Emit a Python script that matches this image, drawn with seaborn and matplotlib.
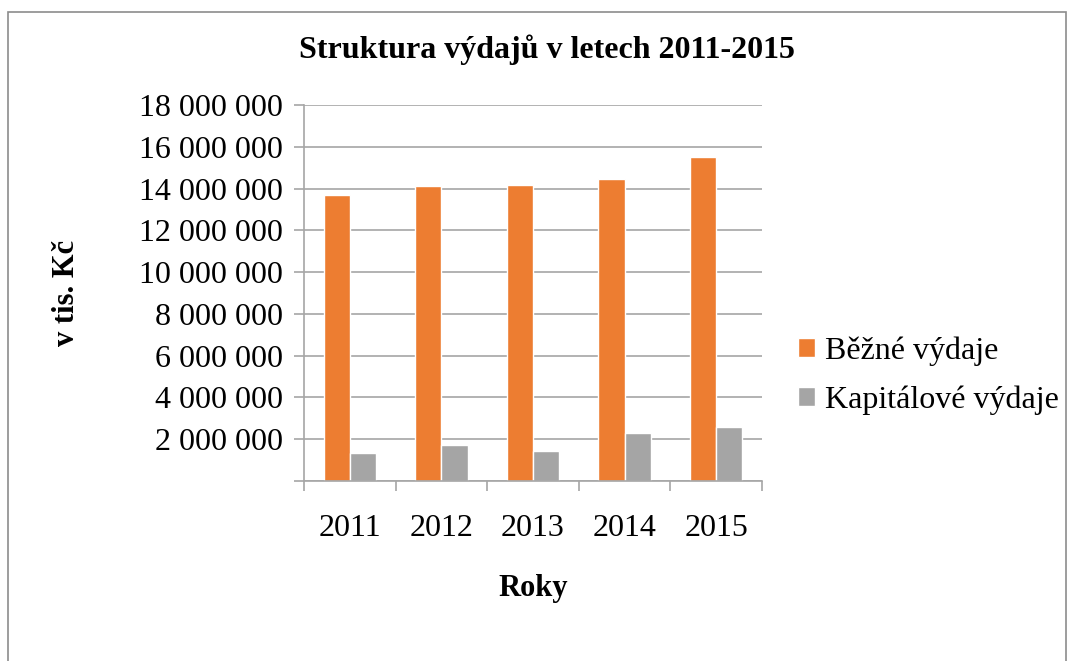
"""Struktura výdajů v letech 2011-2015 - grouped bar chart."""
import matplotlib

matplotlib.use("Agg")

import matplotlib.pyplot as plt
import pandas as pd
import seaborn as sns
from matplotlib.patches import Rectangle
from matplotlib.ticker import FuncFormatter, FixedLocator

years = ["2011", "2012", "2013", "2014", "2015"]
bezne = [13_710_000, 14_100_000, 14_180_000, 14_480_000, 15_520_000]
kapitalove = [1_340_000, 1_720_000, 1_430_000, 2_300_000, 2_580_000]
series_names = ["Běžné výdaje", "Kapitálové výdaje"]
colors = ["#ED7D31", "#A5A5A5"]

df = pd.DataFrame({
    "Rok": years * 2,
    "Hodnota": bezne + kapitalove,
    "Řada": [series_names[0]] * len(years) + [series_names[1]] * len(years),
})

sns.set_style("white")
plt.rcParams["font.family"] = ["Liberation Serif", "DejaVu Serif"]
# plain black text like the original office chart
plt.rcParams.update({
    "text.color": "black",
    "axes.labelcolor": "black",
    "xtick.labelcolor": "black",
    "ytick.labelcolor": "black",
})

fig = plt.figure(figsize=(10.75, 6.61), dpi=100)
ax = fig.add_axes([304 / 1075, 1 - 481 / 661, (762 - 304) / 1075, (481 - 105) / 661])

sns.barplot(data=df, x="Rok", y="Hodnota", hue="Řada", palette=colors,
            width=0.57, ax=ax, saturation=1, gap=0)

grid_color = "#A6A6A6"
ax.set_ylim(0, 18_000_000)
ax.set_yticks(range(0, 18_000_001, 2_000_000))
ax.yaxis.set_major_formatter(
    FuncFormatter(lambda v, _: "" if v == 0 else f"{int(v):,}".replace(",", " ")))
ax.set_xlim(-0.5, len(years) - 0.5)
ax.yaxis.grid(True, color=grid_color, linewidth=1.2)
ax.set_axisbelow(True)

for side in ["top", "right"]:
    ax.spines[side].set_visible(False)
for side in ["left", "bottom"]:
    ax.spines[side].set_color(grid_color)
    ax.spines[side].set_linewidth(1.2)

ax.tick_params(axis="y", which="major", length=7, color=grid_color, width=1.2,
               labelsize=23, pad=8, left=True, labelcolor="black")
ax.tick_params(axis="x", which="major", length=0, labelsize=23, pad=24,
               labelcolor="black")
ax.xaxis.set_minor_locator(FixedLocator([i - 0.5 for i in range(len(years) + 1)]))
ax.tick_params(axis="x", which="minor", length=7, color=grid_color, width=1.2,
               bottom=True)

ax.set_xlabel("Roky", fontsize=22, fontweight="bold", labelpad=22, color="black")
ax.set_ylabel("v tis. Kč", fontsize=22, fontweight="bold", labelpad=42, color="black")
ax.set_title("Struktura výdajů v letech 2011-2015", fontsize=23,
             fontweight="bold", pad=34, color="black", x=0.531)

handles, labels = ax.get_legend_handles_labels()
leg = ax.legend(handles, labels, loc="center left", bbox_to_anchor=(1.015, 0.28),
                frameon=False, fontsize=23, handlelength=0.55, handleheight=0.55,
                handletextpad=0.3, labelspacing=0.6)
for text in leg.get_texts():
    text.set_color("black")

fig.patches.append(Rectangle((8 / 1075, -0.05), (1066 - 8) / 1075, 1.05 - 12 / 661,
                             transform=fig.transFigure, fill=False,
                             edgecolor="#8C8C8C", linewidth=1.2))

fig.savefig("out.png", dpi=100)
